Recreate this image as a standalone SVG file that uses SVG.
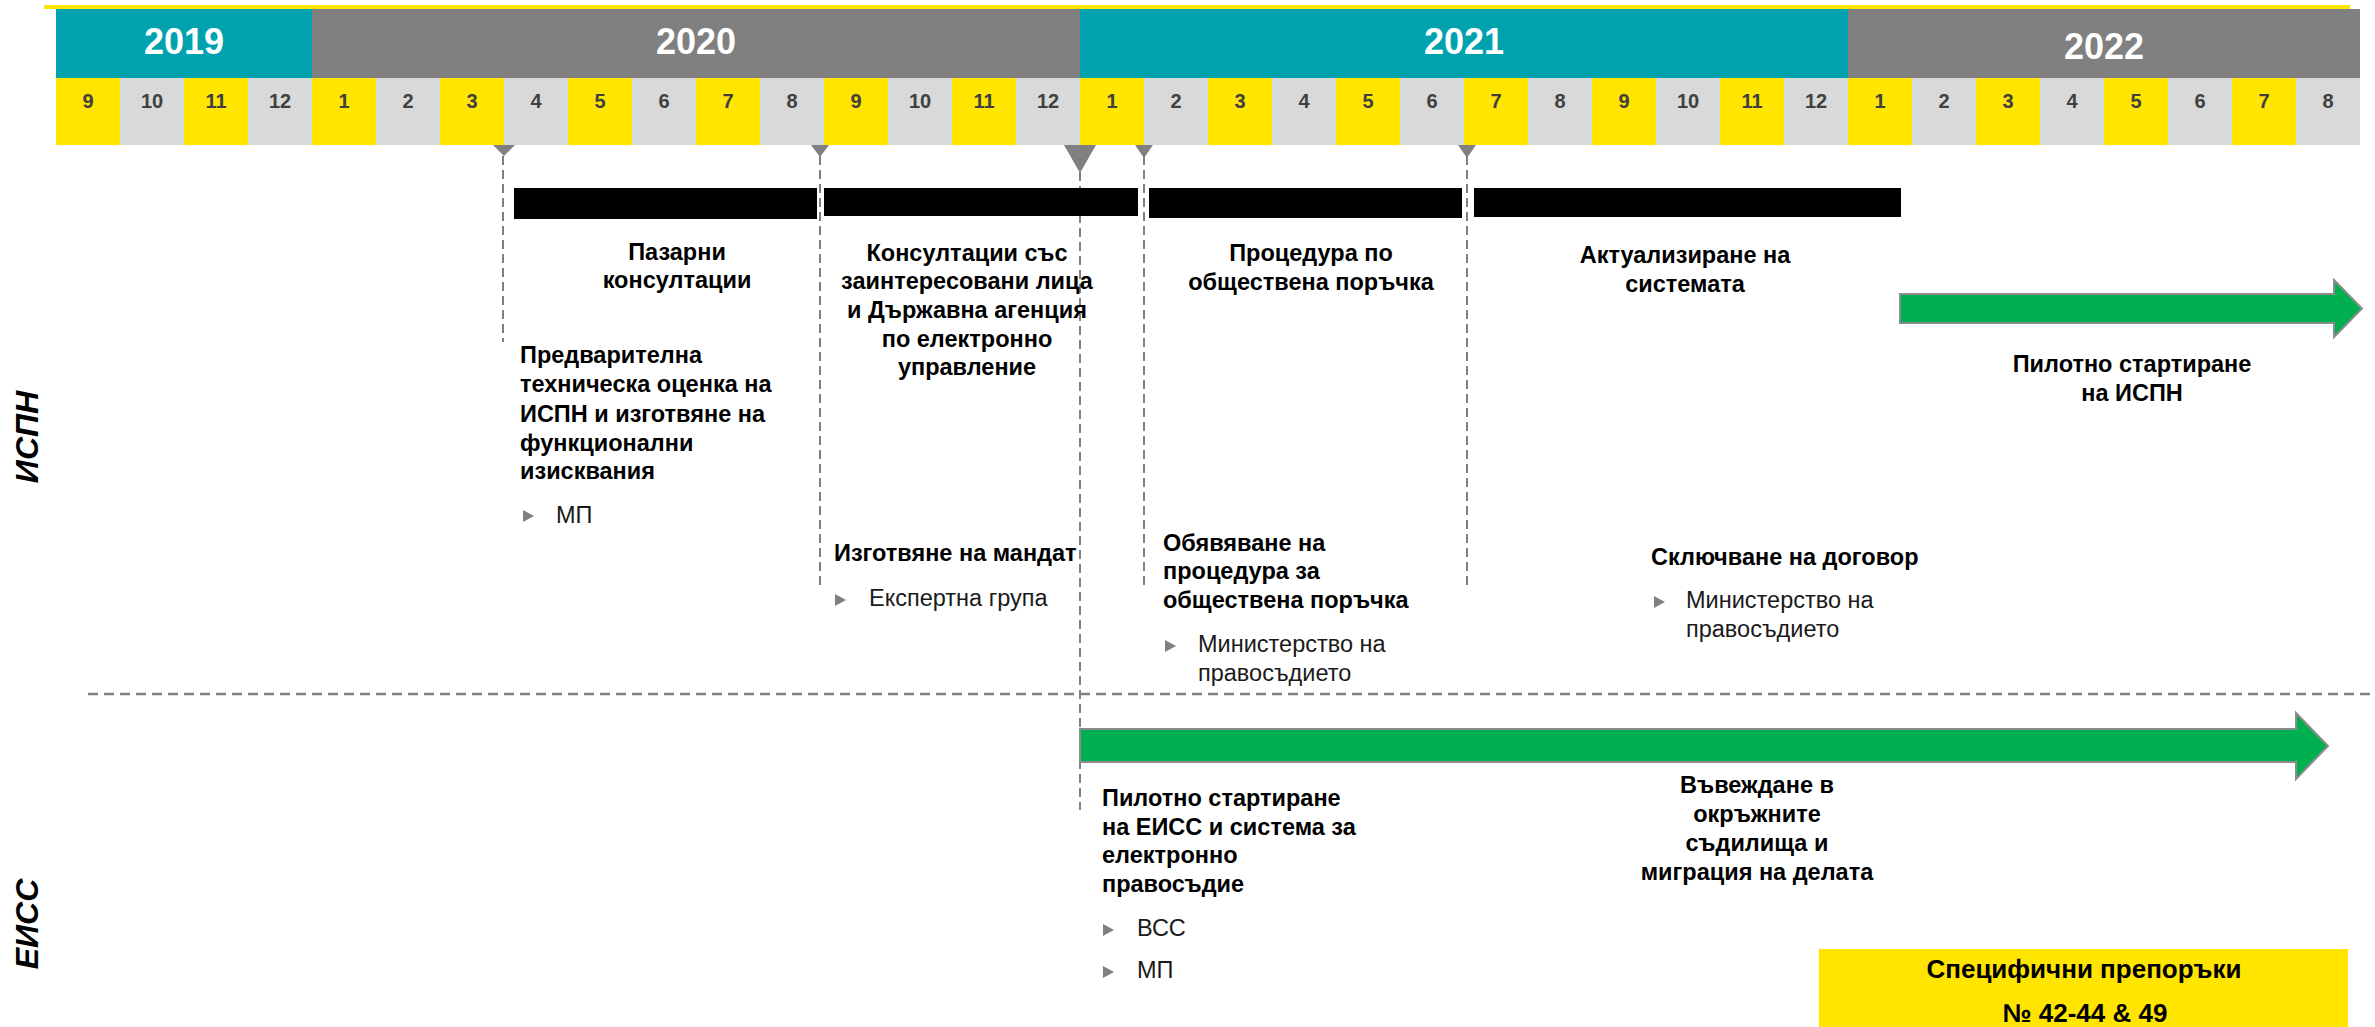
<svg xmlns="http://www.w3.org/2000/svg" width="2375" height="1027" viewBox="0 0 2375 1027">
<style>
text{font-family:"Liberation Sans",Arial,sans-serif}
.yr{fill:#fff;font-weight:bold;font-size:36px;text-anchor:middle}
.mo{fill:#404040;font-weight:bold;font-size:20px;text-anchor:middle}
.b{fill:#000;font-weight:bold;font-size:23.5px}
.c{text-anchor:middle}
.r{fill:#1a1a1a;font-size:23.5px}
.lane{fill:#000;font-weight:bold;font-style:italic;font-size:32px;text-anchor:middle}
.rec{fill:#000;font-weight:bold;font-size:26px;text-anchor:middle}
.teal{fill:#00A3AD}.gy{fill:#808080}.my{fill:#FFE500}.mg{fill:#D9D9D9}
.bar{fill:#000}
.dv{stroke:#808080;stroke-width:2;stroke-dasharray:9 5;fill:none}
.dh{stroke:#808080;stroke-width:2.5;stroke-dasharray:10 6;fill:none}
.tri{fill:#808080}
.arr{fill:#00B050;stroke:#8c8c8c;stroke-width:2}
.bul{fill:#808080}
</style>
<defs>
<path id="bul" d="M0,-6 L11,0 L0,6 Z"/>
</defs>
<rect width="2375" height="1027" fill="#fff"/>

<g id="header">
<rect x="44" y="5" width="2306" height="4" fill="#FFE500"/>
<rect class="teal" x="56" y="9" width="256" height="69"/>
<rect class="gy" x="312" y="9" width="768" height="69"/>
<rect class="teal" x="1080" y="9" width="768" height="69"/>
<rect class="gy" x="1848" y="9" width="512" height="69"/>
<text class="yr" x="184" y="54">2019</text>
<text class="yr" x="696" y="54">2020</text>
<text class="yr" x="1464" y="54">2021</text>
<text class="yr" x="2104" y="59" font-size="42">2022</text>
<g id="months">
<rect class="my" x="56" y="78" width="64" height="67"/><text class="mo" x="88" y="108">9</text>
<rect class="mg" x="120" y="78" width="64" height="67"/><text class="mo" x="152" y="108">10</text>
<rect class="my" x="184" y="78" width="64" height="67"/><text class="mo" x="216" y="108">11</text>
<rect class="mg" x="248" y="78" width="64" height="67"/><text class="mo" x="280" y="108">12</text>
<rect class="my" x="312" y="78" width="64" height="67"/><text class="mo" x="344" y="108">1</text>
<rect class="mg" x="376" y="78" width="64" height="67"/><text class="mo" x="408" y="108">2</text>
<rect class="my" x="440" y="78" width="64" height="67"/><text class="mo" x="472" y="108">3</text>
<rect class="mg" x="504" y="78" width="64" height="67"/><text class="mo" x="536" y="108">4</text>
<rect class="my" x="568" y="78" width="64" height="67"/><text class="mo" x="600" y="108">5</text>
<rect class="mg" x="632" y="78" width="64" height="67"/><text class="mo" x="664" y="108">6</text>
<rect class="my" x="696" y="78" width="64" height="67"/><text class="mo" x="728" y="108">7</text>
<rect class="mg" x="760" y="78" width="64" height="67"/><text class="mo" x="792" y="108">8</text>
<rect class="my" x="824" y="78" width="64" height="67"/><text class="mo" x="856" y="108">9</text>
<rect class="mg" x="888" y="78" width="64" height="67"/><text class="mo" x="920" y="108">10</text>
<rect class="my" x="952" y="78" width="64" height="67"/><text class="mo" x="984" y="108">11</text>
<rect class="mg" x="1016" y="78" width="64" height="67"/><text class="mo" x="1048" y="108">12</text>
<rect class="my" x="1080" y="78" width="64" height="67"/><text class="mo" x="1112" y="108">1</text>
<rect class="mg" x="1144" y="78" width="64" height="67"/><text class="mo" x="1176" y="108">2</text>
<rect class="my" x="1208" y="78" width="64" height="67"/><text class="mo" x="1240" y="108">3</text>
<rect class="mg" x="1272" y="78" width="64" height="67"/><text class="mo" x="1304" y="108">4</text>
<rect class="my" x="1336" y="78" width="64" height="67"/><text class="mo" x="1368" y="108">5</text>
<rect class="mg" x="1400" y="78" width="64" height="67"/><text class="mo" x="1432" y="108">6</text>
<rect class="my" x="1464" y="78" width="64" height="67"/><text class="mo" x="1496" y="108">7</text>
<rect class="mg" x="1528" y="78" width="64" height="67"/><text class="mo" x="1560" y="108">8</text>
<rect class="my" x="1592" y="78" width="64" height="67"/><text class="mo" x="1624" y="108">9</text>
<rect class="mg" x="1656" y="78" width="64" height="67"/><text class="mo" x="1688" y="108">10</text>
<rect class="my" x="1720" y="78" width="64" height="67"/><text class="mo" x="1752" y="108">11</text>
<rect class="mg" x="1784" y="78" width="64" height="67"/><text class="mo" x="1816" y="108">12</text>
<rect class="my" x="1848" y="78" width="64" height="67"/><text class="mo" x="1880" y="108">1</text>
<rect class="mg" x="1912" y="78" width="64" height="67"/><text class="mo" x="1944" y="108">2</text>
<rect class="my" x="1976" y="78" width="64" height="67"/><text class="mo" x="2008" y="108">3</text>
<rect class="mg" x="2040" y="78" width="64" height="67"/><text class="mo" x="2072" y="108">4</text>
<rect class="my" x="2104" y="78" width="64" height="67"/><text class="mo" x="2136" y="108">5</text>
<rect class="mg" x="2168" y="78" width="64" height="67"/><text class="mo" x="2200" y="108">6</text>
<rect class="my" x="2232" y="78" width="64" height="67"/><text class="mo" x="2264" y="108">7</text>
<rect class="mg" x="2296" y="78" width="64" height="67"/><text class="mo" x="2328" y="108">8</text>
</g>
</g>

<g id="lane-labels">
<text class="lane" transform="translate(38,437) rotate(-90)">ИСПН</text>
<text class="lane" transform="translate(38,924) rotate(-90)">ЕИСС</text>
</g>

<g id="connectors">
<line class="dh" x1="88" y1="694" x2="2375" y2="694"/>
<line class="dv" x1="503" y1="156" x2="503" y2="342"/>
<line class="dv" x1="820" y1="156" x2="820" y2="586"/>
<line class="dv" x1="1080" y1="172" x2="1080" y2="810"/>
<line class="dv" x1="1144" y1="156" x2="1144" y2="586"/>
<line class="dv" x1="1467" y1="156" x2="1467" y2="589"/>
<path class="tri" d="M493,145 L515,145 L504,156 Z"/>
<path class="tri" d="M811,145 L829,145 L820,157 Z"/>
<path class="tri" d="M1064,145 L1096,145 L1080,173 Z"/>
<path class="tri" d="M1135,145 L1153,145 L1144,158 Z"/>
<path class="tri" d="M1458,145 L1476,145 L1467,158 Z"/>
</g>

<g id="bar-market">
<rect class="bar" x="514" y="188" width="303" height="31"/>
<text class="b c" x="677" y="260">Пазарни</text>
<text class="b c" x="677" y="288">консултации</text>
</g>

<g id="bar-stakeholders">
<rect class="bar" x="824" y="188" width="314" height="28"/>
<text class="b c" x="967" y="261">Консултации със</text>
<text class="b c" x="967" y="289">заинтересовани лица</text>
<text class="b c" x="967" y="318">и Държавна агенция</text>
<text class="b c" x="967" y="347">по електронно</text>
<text class="b c" x="967" y="375">управление</text>
</g>

<g id="bar-procurement">
<rect class="bar" x="1149" y="188" width="313" height="30"/>
<text class="b c" x="1311" y="261">Процедура по</text>
<text class="b c" x="1311" y="290">обществена поръчка</text>
</g>

<g id="bar-update">
<rect class="bar" x="1474" y="188" width="427" height="29"/>
<text class="b c" x="1685" y="263">Актуализиране на</text>
<text class="b c" x="1685" y="292">системата</text>
</g>

<g id="arrow-ispn">
<path class="arr" d="M1900,294 L2334,294 L2334,280 L2362,308.5 L2334,337 L2334,323 L1900,323 Z"/>
<text class="b c" x="2132" y="372">Пилотно стартиране</text>
<text class="b c" x="2132" y="401">на ИСПН</text>
</g>

<g id="milestone-assessment">
<text class="b" x="520" y="363">Предварителна</text>
<text class="b" x="520" y="392">техническа оценка на</text>
<text class="b" x="520" y="422">ИСПН и изготвяне на</text>
<text class="b" x="520" y="451">функционални</text>
<text class="b" x="520" y="479">изисквания</text>
<use href="#bul" class="bul" x="523" y="516"/>
<text class="r" x="556" y="523">МП</text>
</g>

<g id="milestone-mandate">
<text class="b" x="834" y="561">Изготвяне на мандат</text>
<use href="#bul" class="bul" x="835" y="600"/>
<text class="r" x="869" y="606">Експертна група</text>
</g>

<g id="milestone-announce">
<text class="b" x="1163" y="551">Обявяване на</text>
<text class="b" x="1163" y="579">процедура за</text>
<text class="b" x="1163" y="608">обществена поръчка</text>
<use href="#bul" class="bul" x="1165" y="646"/>
<text class="r" x="1198" y="652">Министерство на</text>
<text class="r" x="1198" y="681">правосъдието</text>
</g>

<g id="milestone-contract">
<text class="b" x="1651" y="565">Сключване на договор</text>
<use href="#bul" class="bul" x="1654" y="602"/>
<text class="r" x="1686" y="608">Министерство на</text>
<text class="r" x="1686" y="637">правосъдието</text>
</g>

<g id="arrow-eiss">
<path class="arr" d="M1080,729 L2296,729 L2296,713 L2328,746 L2296,779 L2296,762 L1080,762 Z"/>
<text class="b c" x="1757" y="793">Въвеждане в</text>
<text class="b c" x="1757" y="822">окръжните</text>
<text class="b c" x="1757" y="851">съдилища и</text>
<text class="b c" x="1757" y="880">миграция на делата</text>
</g>

<g id="milestone-pilot-eiss">
<text class="b" x="1102" y="806">Пилотно стартиране</text>
<text class="b" x="1102" y="835">на ЕИСС и система за</text>
<text class="b" x="1102" y="863">електронно</text>
<text class="b" x="1102" y="892">правосъдие</text>
<use href="#bul" class="bul" x="1103" y="930"/>
<text class="r" x="1137" y="936">ВСС</text>
<use href="#bul" class="bul" x="1103" y="972"/>
<text class="r" x="1137" y="978">МП</text>
</g>

<g id="recommendations">
<rect x="1819" y="949" width="529" height="78" fill="#FFE500"/>
<text class="rec" x="2084" y="978">Специфични препоръки</text>
<text class="rec" x="2085" y="1022">№ 42-44 &amp; 49</text>
</g>
</svg>
